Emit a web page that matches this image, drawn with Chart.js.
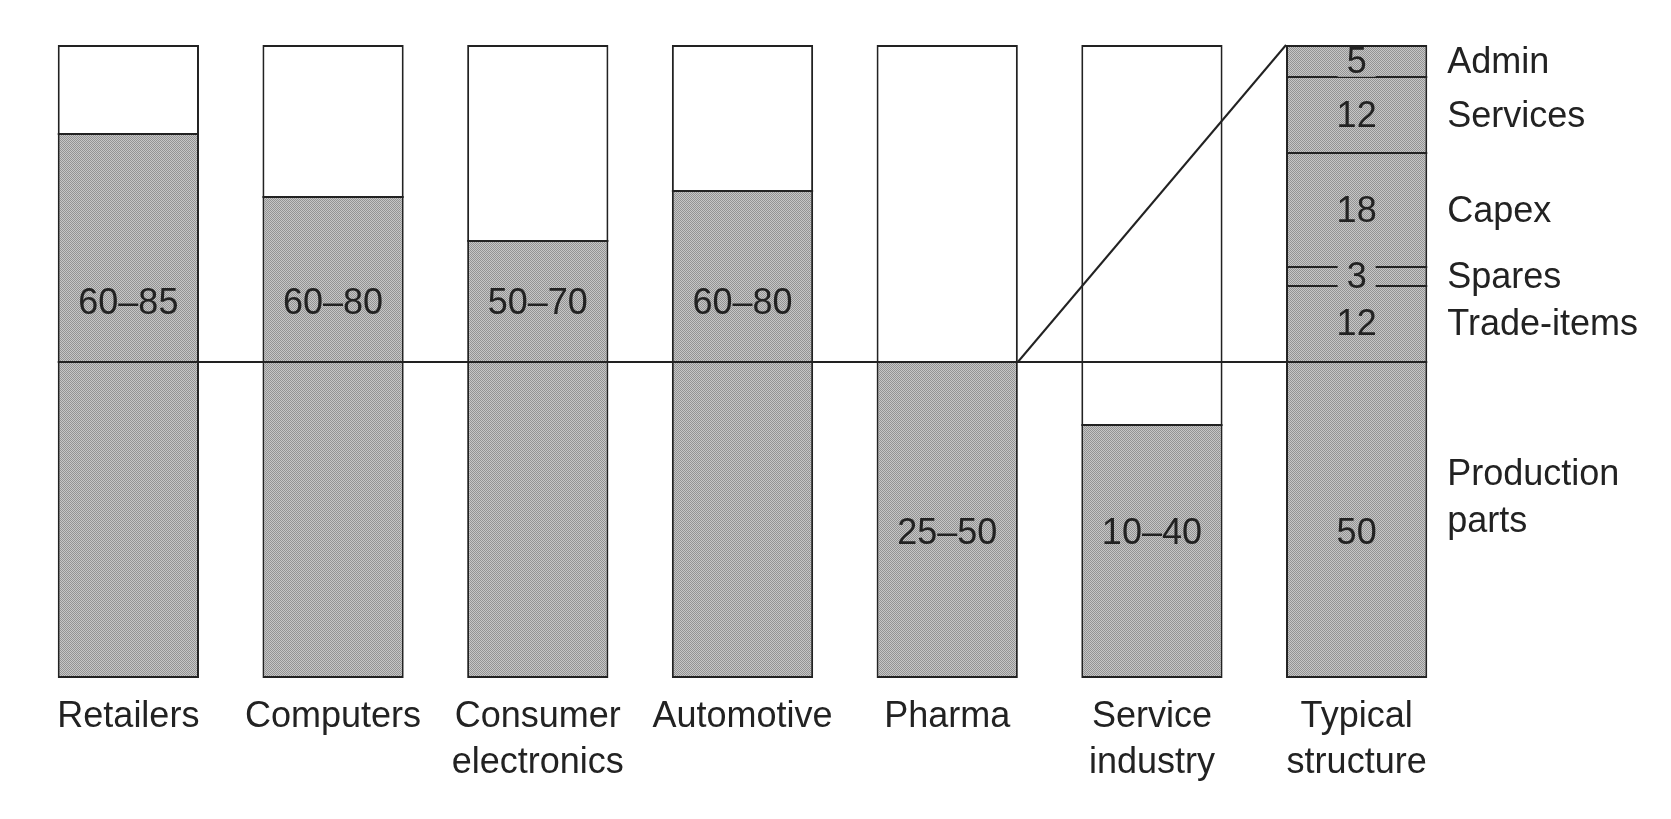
<!DOCTYPE html>
<html>
<head>
<meta charset="utf-8">
<script src="https://cdn.jsdelivr.net/npm/chart.js@4"></script>
<style>
  html, body { margin: 0; padding: 0; background: #fff; }
</style>
</head>
<body>
<canvas id="chart" width="1671" height="819"></canvas>
<script>
// categories along the bottom
const categories = [['Retailers'], ['Computers'], ['Consumer', 'electronics'], ['Automotive'], ['Pharma'], ['Service', 'industry'], ['Typical', 'structure']];
// shaded height of each industry bar (%)
const industryShare = [86, 76, 69, 77, 50, 40];
const industryRange = ['60–85', '60–80', '50–70', '60–80', '25–50', '10–40'];
// typical structure, bottom to top
const structureNames = [['Production', 'parts'], ['Trade-items'], ['Spares'], ['Capex'], ['Services'], ['Admin']];
const structureValues = [50, 12, 3, 18, 12, 5];

const ink = '#222';
const family = '"Liberation Sans", Arial, Helvetica, sans-serif';
const upperLabelAt = 59;   // where the range text sits when the range goes above 50
const lowerLabelAt = 22.8; // where it sits otherwise

function makeStipple() {
  const c = document.createElement('canvas');
  c.width = 2; c.height = 2;
  const g = c.getContext('2d');
  g.fillStyle = '#c6c6c6'; g.fillRect(0, 0, 2, 2);
  g.fillStyle = '#939393'; g.fillRect(0, 0, 1, 1); g.fillRect(1, 1, 1, 1);
  return g.createPattern(c, 'repeat');
}
const stipple = makeStipple();
const last = categories.length - 1;

// outer outline only; the dividers inside a stack are drawn by the overlay
const edge = (isBottom, isTop) => ({ left: 2, right: 2, bottom: isBottom ? 2 : 0, top: isTop ? 2 : 0 });

const datasets = [
  { label: 'Share', data: [...industryShare, null], backgroundColor: stipple, borderWidth: edge(true, false) },
  { label: 'Rest', data: [...industryShare.map(v => 100 - v), null], backgroundColor: '#fff', borderWidth: edge(false, true) },
  ...structureValues.map((v, i) => ({
    label: structureNames[i].join(' '),
    data: categories.map((_, j) => (j === last ? v : null)),
    backgroundColor: stipple,
    borderWidth: edge(i === 0, i === structureValues.length - 1)
  }))
].map(d => ({ ...d, borderColor: ink, borderSkipped: false, inflateAmount: 0, barPercentage: 0.69, categoryPercentage: 1 }));

function hline(ctx, x0, x1, yy) {
  ctx.beginPath();
  ctx.moveTo(x0, yy);
  ctx.lineTo(x1, yy);
  ctx.stroke();
}

const overlay = {
  id: 'overlay',
  afterDatasetsDraw(chart) {
    const ctx = chart.ctx;
    const y = chart.scales.y;
    const share = chart.getDatasetMeta(0).data;
    const first = share[0];
    const pharma = share[4];
    const base = chart.getDatasetMeta(2).data[last];
    const topSeg = chart.getDatasetMeta(datasets.length - 1).data[last];
    const y50 = y.getPixelForValue(50);

    ctx.save();
    ctx.strokeStyle = ink;
    ctx.lineWidth = 2;

    // dividers inside the stacks
    share.forEach((el, i) => {
      if (industryShare[i] == null) return;
      hline(ctx, el.x - el.width / 2, el.x + el.width / 2, Math.round(el.y));
    });
    structureValues.slice(0, -1).forEach((v, i) => {
      const el = chart.getDatasetMeta(i + 2).data[last];
      hline(ctx, el.x - el.width / 2, el.x + el.width / 2, Math.round(el.y));
    });

    // the 50% line and the fan-out to the typical structure
    hline(ctx, first.x - first.width / 2, base.x - base.width / 2, Math.round(y50));
    ctx.beginPath();
    ctx.moveTo(pharma.x + pharma.width / 2, Math.round(y50));
    ctx.lineTo(topSeg.x - topSeg.width / 2, topSeg.y);
    ctx.stroke();

    ctx.fillStyle = ink;
    ctx.font = '36px ' + family;
    ctx.textAlign = 'center';
    ctx.textBaseline = 'middle';

    // range text in the industry bars
    industryRange.forEach((txt, i) => {
      const hi = parseFloat(txt.split('–')[1]);
      const at = hi > 50 ? upperLabelAt : lowerLabelAt;
      ctx.fillText(txt, share[i].x, y.getPixelForValue(at));
    });

    // typical structure numbers and names
    structureValues.forEach((v, i) => {
      const el = chart.getDatasetMeta(i + 2).data[last];
      const mid = (el.y + el.base) / 2;
      const ty = i === 0 ? y.getPixelForValue(lowerLabelAt) : mid + 2;
      const txt = String(v);
      if (v < 8) {
        // thin slices: the number breaks the dividing lines
        const w = ctx.measureText(txt).width + 18;
        ctx.fillStyle = stipple;
        ctx.fillRect(el.x - w / 2, mid - 12, w, 28);
        ctx.fillStyle = ink;
      }
      ctx.textAlign = 'center';
      ctx.fillText(txt, el.x, ty);

      const names = structureNames[i];
      ctx.textAlign = 'left';
      names.forEach((n, k) => {
        ctx.fillText(n, el.x + el.width / 2 + 20, mid + 2 - (names.length - 1 - k) * 47);
      });
    });
    ctx.restore();
  }
};

new Chart(document.getElementById('chart'), {
  type: 'bar',
  data: { labels: categories, datasets },
  options: {
    responsive: false,
    animation: false,
    devicePixelRatio: 1,
    layout: { padding: { left: 26, right: 212, top: 45, bottom: 0 } },
    plugins: { legend: { display: false }, tooltip: { enabled: false } },
    scales: {
      x: {
        stacked: true,
        grid: { display: false },
        border: { display: false },
        ticks: { color: ink, font: { family, size: 36, lineHeight: 46 / 36 }, padding: 8, maxRotation: 0, autoSkip: false },
        afterFit(scale) { scale.height = 141; }
      },
      y: { stacked: true, display: false, min: 0, max: 100 }
    }
  },
  plugins: [overlay]
});
</script>
</body>
</html>
